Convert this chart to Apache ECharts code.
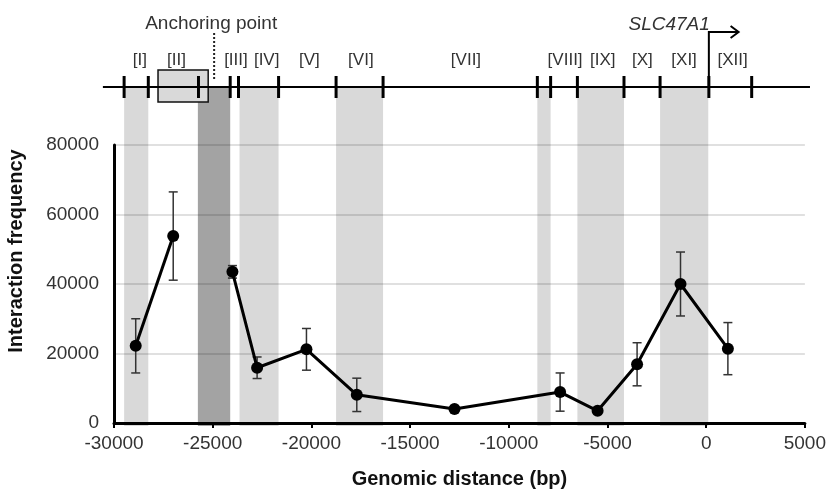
<!DOCTYPE html>
<html><head><meta charset="utf-8">
<script src="https://cdn.jsdelivr.net/npm/echarts@6/dist/echarts.min.js"></script>
<style>html,body{margin:0;padding:0;background:#fff}#c{width:829px;height:494px}</style>
</head><body><div id="c"></div>
<script>
// ---- data ----
const distance  = [-28900, -27000, -24000, -22750, -20250, -17700, -12750, -7400, -5500, -3500, -1300, 1100];
const frequency = [22200, 53800, 43500, 15900, 21200, 8100, 4000, 8900, 3500, 16900, 40000, 21400];
const errorSD   = [7800, 12700, 1800, 3100, 6000, 4800, 0, 5500, 0, 6200, 9200, 7500];
const lineBreakIndex = 2; // line is interrupted before this point (anchor fragment)

const xTicks = { min: -30000, max: 5000, interval: 5000 };
const yTicks = { min: 0, max: 80000, interval: 20000 };

const lightBandStart = [-29490, -23670, -18800, -8650, -6630, -2460];
const lightBandEnd   = [-28270, -21700, -16430, -7980, -4280, -30];
const anchorBand     = [-25770, -24140];
const fragmentBounds = [-29490, -28270, -25740, -24140, -23720, -21700, -18800, -16430, -8650, -7980, -6630, -4280, -2460, 0, 2160];
const fragmentLabels = ['[I]', '[II]', '[III]', '[IV]', '[V]', '[VI]', '[VII]', '[VIII]', '[IX]', '[X]', '[XI]', '[XII]'];
const fragmentLabelPos = [-28700, -26850, -23850, -22300, -20150, -17550, -12250, -7250, -5350, -3350, -1250, 1200];
const geneLineExtent = [-30560, 5100];
const anchorBox = [-27780, -25250];
const anchorPoint = -24950;
const tssPos = 0;
const tssArrowEnd = 1500;
const geneName = 'SLC47A1';

// ---- layout (pixel rows of the annotation overlay) ----
const L = { gene: 87, tickTop: 76, tickBot: 98, label: 60, boxTop: 70, boxBot: 102,
  bandTop: 88, bandBot: 426, anchorText: 24, dotTop: 33, dotBot: 80, arrow: 32, geneName: 25 };

const FONT = "'Liberation Sans', Arial, sans-serif";

const seg1 = distance.slice(0, lineBreakIndex).map((x, i) => [x, frequency[i]]);
const seg2 = distance.slice(lineBreakIndex).map((x, i) => [x, frequency[i + lineBreakIndex]]);
const errData = distance.map((x, i) => [x, frequency[i] - errorSD[i], frequency[i] + errorSD[i]]);
const bandData = lightBandStart.map((s, i) => [s, lightBandEnd[i], 0]).concat([[anchorBand[0], anchorBand[1], 1]]);
const labelData = fragmentLabelPos.map((x, i) => [x, i]);

const chart = echarts.init(document.getElementById('c'));
chart.setOption({
  animation: false,
  backgroundColor: '#fff',
  grid: [
    { left: 114, right: 21, top: 145, bottom: 68 },
    { left: 114, right: 21, top: 0, bottom: 68 }
  ],
  xAxis: [
    { gridIndex: 0, type: 'value', min: xTicks.min, max: xTicks.max, interval: xTicks.interval,
      name: 'Genomic distance (bp)', nameLocation: 'middle', nameGap: 46,
      nameTextStyle: { fontFamily: FONT, fontSize: 20, fontWeight: 'bold', color: '#111' },
      axisLine: { onZero: false, lineStyle: { color: '#000', width: 3 } },
      axisTick: { show: true, length: 5, lineStyle: { color: '#000', width: 2 } },
      axisLabel: { fontFamily: FONT, fontSize: 19, color: '#333', margin: 11, formatter: v => String(v) },
      splitLine: { show: false } },
    { gridIndex: 1, type: 'value', min: xTicks.min, max: xTicks.max, show: false }
  ],
  yAxis: [
    { gridIndex: 0, type: 'value', min: yTicks.min, max: yTicks.max, interval: yTicks.interval,
      axisLine: { show: true, onZero: false, lineStyle: { color: '#000', width: 3 } },
      axisTick: { show: false },
      axisLabel: { fontFamily: FONT, fontSize: 19, color: '#333', margin: 15, formatter: v => String(v) },
      splitLine: { show: true, lineStyle: { color: '#d6d6d6', width: 1.5 } } },
    { gridIndex: 1, type: 'value', min: 0, max: 426, inverse: true, show: false }
  ],
  graphic: [
    { type: 'text', x: 16, y: 251, rotation: Math.PI / 2,
      style: { text: 'Interaction frequency', font: "bold 20px " + FONT, fill: '#111',
        align: 'center', verticalAlign: 'middle', textAlign: 'center', textVerticalAlign: 'middle' } }
  ],
  series: [
    { type: 'custom', xAxisIndex: 1, yAxisIndex: 1, z: 1, silent: true, data: bandData,
      renderItem: (p, api) => {
        const a = api.coord([api.value(0), L.bandTop]);
        const b = api.coord([api.value(1), L.bandBot]);
        return { type: 'rect', shape: { x: a[0], y: a[1], width: b[0] - a[0], height: b[1] - a[1] },
          style: { fill: api.value(2) ? 'rgba(0,0,0,0.36)' : 'rgba(0,0,0,0.15)' } };
      } },
    { type: 'custom', xAxisIndex: 1, yAxisIndex: 1, z: 4, silent: true, data: [[0]],
      renderItem: (p, api) => {
        const b0 = api.coord([anchorBox[0], L.boxTop]);
        const b1 = api.coord([anchorBox[1], L.boxBot]);
        const g0 = api.coord([geneLineExtent[0], L.gene]);
        const g1 = api.coord([geneLineExtent[1], L.gene]);
        const d0 = api.coord([anchorPoint, L.dotTop]);
        const d1 = api.coord([anchorPoint, L.dotBot]);
        const at = api.coord([anchorPoint - 150, L.anchorText]);
        const t0 = api.coord([tssPos, L.gene]);
        const t1 = api.coord([tssPos, L.arrow]);
        const t2 = api.coord([tssArrowEnd, L.arrow]);
        return { type: 'group', children: [
          { type: 'rect', shape: { x: b0[0], y: b0[1], width: b1[0] - b0[0], height: b1[1] - b0[1] },
            style: { fill: '#d9d9d9', stroke: '#111', lineWidth: 1.5 } },
          { type: 'line', shape: { x1: g0[0], y1: g0[1], x2: g1[0], y2: g1[1] }, style: { stroke: '#000', lineWidth: 2 } },
          { type: 'line', shape: { x1: d0[0], y1: d0[1], x2: d1[0], y2: d1[1] }, style: { stroke: '#222', lineWidth: 2, lineDash: [2, 2] } },
          { type: 'text', x: at[0], y: at[1], style: { text: 'Anchoring point', font: '19px ' + FONT, fill: '#333', align: 'center', verticalAlign: 'middle' } },
          { type: 'polyline', shape: { points: [t0, t1, t2] }, style: { stroke: '#000', lineWidth: 2, fill: null } },
          { type: 'polyline', shape: { points: [[t2[0] - 8, t2[1] - 6], t2, [t2[0] - 8, t2[1] + 6]] }, style: { stroke: '#000', lineWidth: 2, fill: null } },
          { type: 'text', x: t1[0] + 1, y: L.geneName, style: { text: geneName, font: 'italic 19px ' + FONT, fill: '#333', align: 'right', verticalAlign: 'middle' } }
        ] };
      } },
    { type: 'custom', xAxisIndex: 1, yAxisIndex: 1, z: 5, silent: true, data: fragmentBounds.map(x => [x]),
      renderItem: (p, api) => {
        const a = api.coord([api.value(0), L.tickTop]);
        const b = api.coord([api.value(0), L.tickBot]);
        return { type: 'line', shape: { x1: a[0], y1: a[1], x2: b[0], y2: b[1] }, style: { stroke: '#000', lineWidth: 3 } };
      } },
    { type: 'custom', xAxisIndex: 1, yAxisIndex: 1, z: 5, silent: true, data: labelData,
      renderItem: (p, api) => {
        const a = api.coord([api.value(0), L.label]);
        return { type: 'text', x: a[0], y: a[1], style: { text: fragmentLabels[api.value(1)], font: '17px ' + FONT, fill: '#333', align: 'center', verticalAlign: 'middle' } };
      } },
    { type: 'custom', xAxisIndex: 0, yAxisIndex: 0, z: 3, silent: true, data: errData,
      renderItem: (p, api) => {
        if (api.value(1) === api.value(2)) return null;
        const lo = api.coord([api.value(0), api.value(1)]);
        const hi = api.coord([api.value(0), api.value(2)]);
        const w = 4.5;
        return { type: 'group', children: [
          { type: 'line', shape: { x1: lo[0], y1: lo[1], x2: hi[0], y2: hi[1] }, style: { stroke: '#333', lineWidth: 1.5 } },
          { type: 'line', shape: { x1: lo[0] - w, y1: lo[1], x2: lo[0] + w, y2: lo[1] }, style: { stroke: '#333', lineWidth: 1.5 } },
          { type: 'line', shape: { x1: hi[0] - w, y1: hi[1], x2: hi[0] + w, y2: hi[1] }, style: { stroke: '#333', lineWidth: 1.5 } }
        ] };
      } },
    { type: 'line', xAxisIndex: 0, yAxisIndex: 0, z: 6, data: seg1, symbol: 'circle', symbolSize: 12,
      itemStyle: { color: '#000' }, lineStyle: { color: '#000', width: 3 } },
    { type: 'line', xAxisIndex: 0, yAxisIndex: 0, z: 6, data: seg2, symbol: 'circle', symbolSize: 12,
      itemStyle: { color: '#000' }, lineStyle: { color: '#000', width: 3 } }
  ]
});
</script></body></html>
